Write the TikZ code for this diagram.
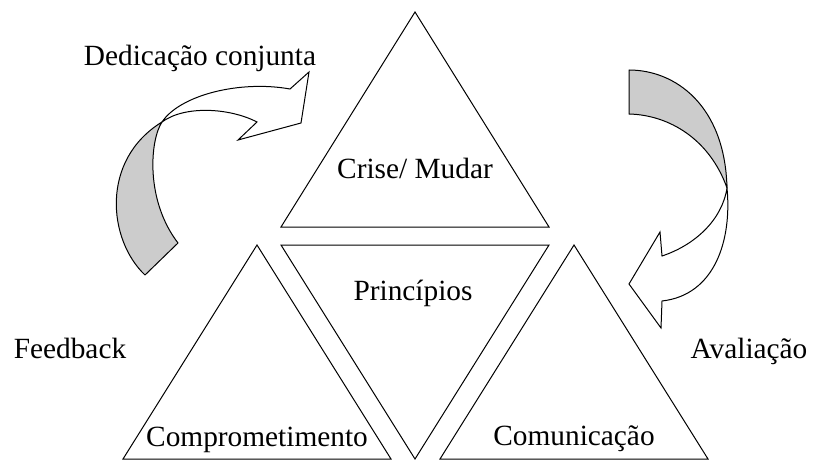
\documentclass[tikz,border=0pt]{standalone}
\usepackage{fontspec}
\setmainfont{Liberation Serif}
\usepackage{tikz}

\begin{document}
\begin{tikzpicture}[x=0.75pt, y=-0.75pt,
	tri/.style={draw=black, line width=0.75pt, line join=miter},
	lbl/.style={font=\fontsize{22}{26}\selectfont, anchor=base, inner sep=0pt},
	backside/.style={draw=black, line width=0.75pt, fill=gray!40, line join=round},
	frontside/.style={draw=black, line width=0.75pt, fill=white, line join=miter}]

\newcommand\hw{134}

\useasboundingbox (0,0) rectangle (813,460);

% triangles
\draw[tri] (415,12) -- (415-\hw,227) -- (415+\hw,227) -- cycle;
\draw[tri] (257,245) -- (257-\hw,459) -- (257+\hw,459) -- cycle;
\draw[tri] (415-\hw,245) -- (415+\hw,245) -- (415,459) -- cycle;
\draw[tri] (574,245) -- (574-\hw,459) -- (574+\hw,459) -- cycle;

\node at (415,178) [lbl] (crise) {Crise/ Mudar};
\node at (413,300) [lbl] (princ) {Princípios};
\node at (257,446) [lbl] (compr) {Comprometimento};
\node at (574,445) [lbl] (comun) {Comunicação};

% left bent arrow
\draw[backside] (145,275) .. controls (108,240) and (100,160) .. (162,122)
	.. controls (150,140) and (145,200) .. (178,243) -- cycle;
\draw[frontside] (162,122) .. controls (180,95) and (240,80) .. (290,89)
	-- (309,72) -- (301,123) -- (238,140) -- (257,122)
	.. controls (230,108) and (185,105) .. (162,122) -- cycle;

% right bent arrow
\draw[backside] (629,70) .. controls (675,70) and (725,105) .. (727,188)
	.. controls (710,140) and (670,115) .. (629,114) -- cycle;
\draw[frontside] (727,188) .. controls (732,240) and (715,295) .. (662,301)
	-- (661,328) -- (629,284) -- (660,232) -- (662,256)
	.. controls (695,245) and (722,220) .. (727,188) -- cycle;

\node at (200,65) [lbl] (dedic) {Dedicação conjunta};
\node at (70,358) [lbl] (feedb) {Feedback};
\node at (749,358) [lbl] (avali) {Avaliação};

\end{tikzpicture}
\end{document}
